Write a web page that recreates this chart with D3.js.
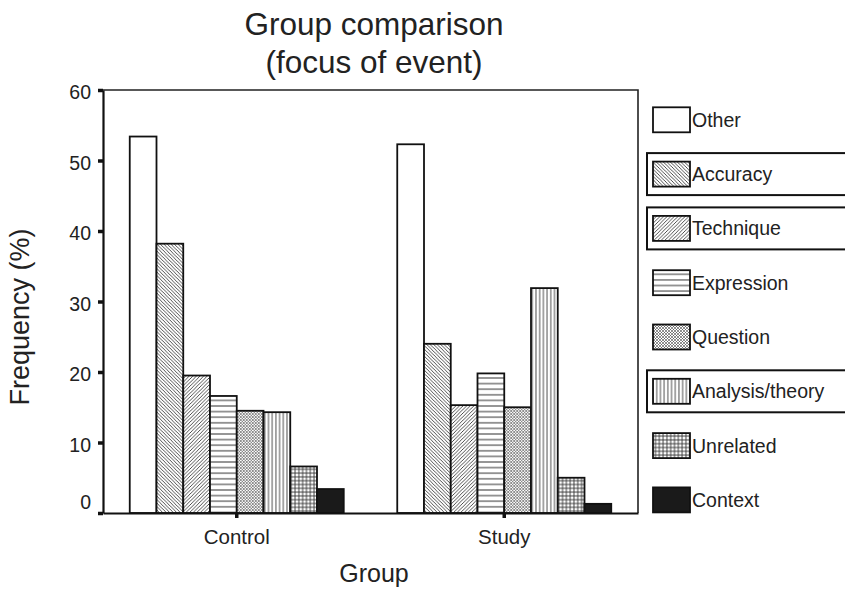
<!DOCTYPE html>
<html>
<head>
<meta charset="utf-8">
<script src="https://cdn.jsdelivr.net/npm/d3@7/dist/d3.min.js"></script>
<style>
  html, body { margin: 0; padding: 0; background: #fff; }
  svg { display: block; font-family: "Liberation Sans", Arial, Helvetica, sans-serif; }
</style>
</head>
<body>
<svg id="chart" width="845" height="589"></svg>
<script>
// ---- data ----
const groups = ["Control", "Study"];
const categories = ["Other", "Accuracy", "Technique", "Expression", "Question", "Analysis/theory", "Unrelated", "Context"];
const controlValues = [53.4, 38.2, 19.5, 16.6, 14.5, 14.3, 6.6, 3.4];
const studyValues   = [52.3, 24.0, 15.3, 19.8, 15.0, 31.9, 5.0, 1.3];
const yTicks = [0, 10, 20, 30, 40, 50, 60];
const boxedLegend = ["Accuracy", "Technique", "Analysis/theory"];
const titleLines = ["Group comparison", "(focus of event)"];

const seriesByGroup = { Control: controlValues, Study: studyValues };

const svg = d3.select("#chart");
svg.append("rect").attr("width", 845).attr("height", 589).attr("fill", "#fff");

// ---- patterns ----
const defs = svg.append("defs");
function pat(id, w, h, draw) {
  const p = defs.append("pattern").attr("id", id).attr("patternUnits", "userSpaceOnUse")
    .attr("width", w).attr("height", h);
  p.append("rect").attr("width", w).attr("height", h).attr("fill", "#fff");
  draw(p);
}
pat("p-acc", 3.5, 3.5, p => p.append("path")
  .attr("d", "M0,0L3.5,3.5M-1,2.5L1,4.5M2.5,-1L4.5,1")
  .attr("stroke", "#222").attr("stroke-width", 0.8));
pat("p-tec", 3.6, 3.6, p => p.append("path")
  .attr("d", "M0,3.6L3.6,0M-1,1L1,-1M2.6,4.6L4.6,2.6")
  .attr("stroke", "#222").attr("stroke-width", 0.8));
pat("p-exp", 10, 5.6, p => p.append("path")
  .attr("d", "M0,2.8H10").attr("stroke", "#333").attr("stroke-width", 1));
pat("p-que", 3, 3, p => p.append("path")
  .attr("d", "M0,0L3,3M3,0L0,3").attr("stroke", "#444").attr("stroke-width", 0.6));
pat("p-ana", 3.7, 10, p => p.append("path")
  .attr("d", "M1.85,0V10").attr("stroke", "#333").attr("stroke-width", 0.9));
pat("p-unr", 3.8, 3.8, p => p.append("path")
  .attr("d", "M1.9,0V3.8M0,1.9H3.8").attr("stroke", "#333").attr("stroke-width", 0.9));

const fills = {
  "Other": "#fff",
  "Accuracy": "url(#p-acc)",
  "Technique": "url(#p-tec)",
  "Expression": "url(#p-exp)",
  "Question": "url(#p-que)",
  "Analysis/theory": "url(#p-ana)",
  "Unrelated": "url(#p-unr)",
  "Context": "#1a1a1a"
};

// ---- scales ----
const plotL = 103, plotR = 638, plotT = 90, plotB = 513;
const y = d3.scaleLinear().domain([0, 60]).range([plotB, plotT]);
const x0 = d3.scaleBand().domain(groups).range([plotL, plotR]).paddingInner(0.2).paddingOuter(0.1);
const x1 = d3.scaleBand().domain(categories).range([0, x0.bandwidth()]);

// frame (top and right)
svg.append("path")
  .attr("d", `M${plotL},${plotT}H${plotR}V${plotB}`)
  .attr("fill", "none").attr("stroke", "#222").attr("stroke-width", 1.6);

// ---- bars ----
const gGroups = svg.selectAll("g.grp").data(groups).join("g")
  .attr("class", "grp")
  .attr("transform", d => `translate(${x0(d)},0)`);
gGroups.selectAll("rect").data(g => categories.map((c, i) => ({ c, v: seriesByGroup[g][i] })))
  .join("rect")
  .attr("x", d => x1(d.c))
  .attr("y", d => y(d.v))
  .attr("width", x1.bandwidth())
  .attr("height", d => y(0) - y(d.v))
  .attr("fill", d => fills[d.c])
  .attr("stroke", "#111").attr("stroke-width", 1.8);

// ---- axes ----
const yAxis = svg.append("g").attr("transform", `translate(${plotL},0)`)
  .call(d3.axisLeft(y).tickValues(yTicks).tickSize(5).tickSizeOuter(0).tickPadding(7));
yAxis.attr("font-family", null);
yAxis.select(".domain").attr("stroke", "#111").attr("stroke-width", 2.2);
yAxis.selectAll(".tick line").attr("stroke", "#111").attr("stroke-width", 3.5);
yAxis.selectAll(".tick text")
  .attr("font-size", 19.5).attr("fill", "#222")
  .attr("dy", "0.32em")
  .attr("y", d => d === 0 ? -11 : 2.5);

const xAxis = svg.append("g").attr("transform", `translate(0,${plotB})`)
  .call(d3.axisBottom(x0).tickSize(5).tickSizeOuter(0));
xAxis.attr("font-family", null);
xAxis.select(".domain").attr("stroke", "#111").attr("stroke-width", 2.2);
xAxis.selectAll(".tick line").attr("stroke", "#111").attr("stroke-width", 3.5);
xAxis.selectAll(".tick text").attr("font-size", 20.5).attr("fill", "#222").attr("y", 16);

// ---- titles ----
svg.selectAll("text.title").data(titleLines).join("text")
  .attr("class", "title")
  .attr("x", 374).attr("y", (d, i) => 35 + i * 38)
  .attr("text-anchor", "middle").attr("font-size", 31.5).attr("fill", "#222")
  .text(d => d);

svg.append("text").attr("x", 374).attr("y", 582)
  .attr("text-anchor", "middle").attr("font-size", 25).attr("fill", "#222")
  .text("Group");

svg.append("text").attr("transform", "translate(29,317) rotate(-90)")
  .attr("text-anchor", "middle").attr("font-size", 27).attr("fill", "#222")
  .text("Frequency (%)");

// ---- legend ----
const ly = d3.scaleLinear().domain([0, 1]).range([119.8, 174.1]);
const leg = svg.selectAll("g.leg").data(categories).join("g")
  .attr("class", "leg")
  .attr("transform", (d, i) => `translate(0,${ly(i)})`);
leg.filter(d => boxedLegend.includes(d)).append("rect")
  .attr("x", 647).attr("y", -21).attr("width", 220).attr("height", 42)
  .attr("fill", "none").attr("stroke", "#111").attr("stroke-width", 2);
leg.append("rect")
  .attr("x", 653).attr("y", -12.5).attr("width", 37).attr("height", 25)
  .attr("fill", d => fills[d]).attr("stroke", "#111").attr("stroke-width", 1.8);
leg.append("text")
  .attr("x", 692).attr("y", 0).attr("dy", "0.36em")
  .attr("font-size", 19.5).attr("fill", "#222")
  .text(d => d);
</script>
</body>
</html>
